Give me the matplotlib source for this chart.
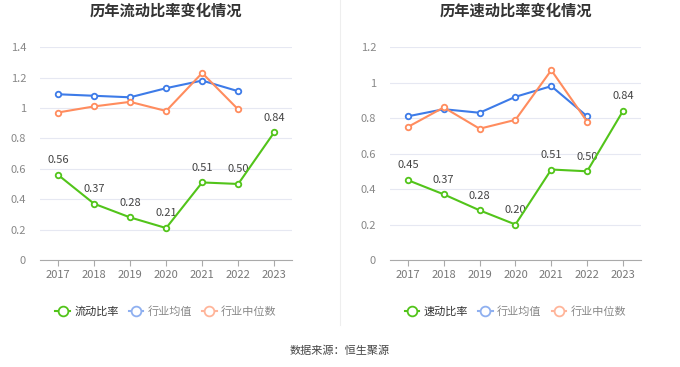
import matplotlib
matplotlib.use('Agg')
import matplotlib.pyplot as plt
from matplotlib.lines import Line2D

plt.rcParams['font.family'] = ['Noto Sans CJK SC', 'DejaVu Sans']

years = ['2017', '2018', '2019', '2020', '2021', '2022', '2023']

# 流动比率
current_ratio = [0.56, 0.37, 0.28, 0.21, 0.51, 0.50, 0.84]
current_avg = [1.09, 1.08, 1.07, 1.13, 1.18, 1.11]
current_median = [0.97, 1.01, 1.04, 0.98, 1.23, 0.99]

# 速动比率
quick_ratio = [0.45, 0.37, 0.28, 0.20, 0.51, 0.50, 0.84]
quick_avg = [0.81, 0.85, 0.83, 0.92, 0.98, 0.81]
quick_median = [0.75, 0.86, 0.74, 0.79, 1.07, 0.78]

green = '#52c41a'
blue = '#3d7be8'
orange = '#ff8c5e'

fig = plt.figure(figsize=(6.8, 3.67), dpi=100)


def draw_panel(ax, title, main, avg, median, ymax, yticks, ylabels, name):
    x = list(range(len(years)))
    ax.plot(x[:len(avg)], avg, color=blue, lw=1.5, marker='o', ms=4,
            mfc='white', mew=1.3, zorder=3)
    ax.plot(x[:len(median)], median, color=orange, lw=1.5, marker='o', ms=4,
            mfc='white', mew=1.3, zorder=3)
    ax.plot(x, main, color=green, lw=1.5, marker='o', ms=4,
            mfc='white', mew=1.3, zorder=4)
    for xi, v in zip(x, main):
        ax.annotate(f'{v:.2f}', (xi, v), xytext=(0, 7), textcoords='offset points',
                    ha='center', va='bottom', fontsize=8, color='#444444')
    ax.set_xlim(-0.5, len(years) - 0.5)
    ax.set_ylim(0, ymax)
    ax.set_yticks(yticks)
    ax.set_yticklabels(ylabels)
    ax.set_xticks(x)
    ax.set_xticklabels(years)
    ax.grid(axis='y', color='#e6e8f2', lw=0.8)
    ax.set_axisbelow(True)
    for s in ['top', 'right', 'left']:
        ax.spines[s].set_visible(False)
    ax.spines['bottom'].set_color('#aaaaaa')
    ax.tick_params(axis='y', length=0, labelsize=8, labelcolor='#888888', pad=10)
    ax.tick_params(axis='x', length=4, color='#aaaaaa', labelsize=8,
                   labelcolor='#777777')
    ax.set_title(title, fontsize=11, fontweight='bold', color='#333333', pad=23)

    handles = [
        Line2D([], [], color=green, lw=1.5, marker='o', ms=7, mfc='white', mew=1.3),
        Line2D([], [], color='#8fb0f0', lw=1.5, marker='o', ms=7, mfc='white', mew=1.3),
        Line2D([], [], color='#ffb59a', lw=1.5, marker='o', ms=7, mfc='white', mew=1.3),
    ]
    leg = ax.legend(handles, [name, '行业均值', '行业中位数'], loc='upper center',
                    bbox_to_anchor=(0.5, -0.17), ncol=3, frameon=False, fontsize=8,
                    handlelength=1.3, handletextpad=0.4, columnspacing=0.9)
    cols = ['#333333', '#888888', '#888888']
    for t, c in zip(leg.get_texts(), cols):
        t.set_color(c)


ax1 = fig.add_axes([0.0588, 0.2916, 0.371, 0.580])
draw_panel(ax1, '历年流动比率变化情况', current_ratio, current_avg, current_median,
           1.4, [0, 0.2, 0.4, 0.6, 0.8, 1.0, 1.2, 1.4],
           ['0', '0.2', '0.4', '0.6', '0.8', '1', '1.2', '1.4'], '流动比率')

ax2 = fig.add_axes([0.5735, 0.2916, 0.369, 0.580])
draw_panel(ax2, '历年速动比率变化情况', quick_ratio, quick_avg, quick_median,
           1.2, [0, 0.2, 0.4, 0.6, 0.8, 1.0, 1.2],
           ['0', '0.2', '0.4', '0.6', '0.8', '1', '1.2'], '速动比率')

# divider between the two panels
fig.add_artist(Line2D([0.5, 0.5], [0.115, 1.0], color='#eeeeee', lw=0.8))

fig.text(0.5, 0.044, '数据来源：恒生聚源', ha='center', va='center',
         fontsize=8, color='#444444')

plt.savefig('out.png', dpi=100)
